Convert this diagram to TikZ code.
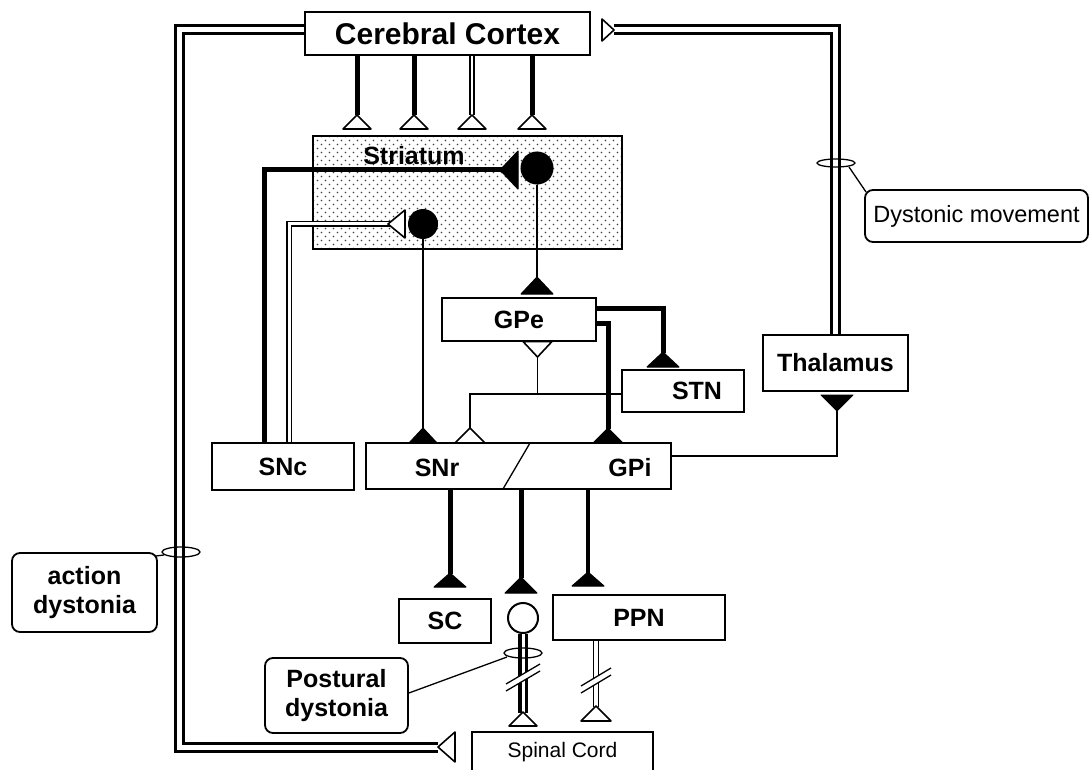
\documentclass[tikz,border=0pt]{standalone}
\usepackage{fontspec}
\setmainfont{Liberation Sans}
\usetikzlibrary{patterns,calc}
\pgfdeclarepatternformonly{sparsedots}{\pgfqpoint{-1pt}{-1pt}}{\pgfqpoint{9pt}{9pt}}{\pgfqpoint{8pt}{8pt}}{%
  \pgfpathcircle{\pgfqpoint{1.5pt}{1.5pt}}{0.85pt}%
  \pgfpathcircle{\pgfqpoint{5.5pt}{5.5pt}}{0.85pt}%
  \pgfusepath{fill}}
\newcommand\ctxfont{\fontsize{30}{32}\selectfont\bfseries}
\newcommand\lblfont{\fontsize{25}{29}\selectfont\bfseries}
\newcommand\smfont{\fontsize{21}{24}\selectfont}
\newcommand\dysfont{\fontsize{23.5}{26}\selectfont}
% vertical synapse: x, apex y, base y, half width, style
\newcommand\synv[5]{\path[#5] (#1,#2) -- (#1+#4,#3) -- (#1-#4,#3) -- cycle;}
% horizontal synapse: y, apex x, base x, half height, style
\newcommand\synh[5]{\path[#5] (#2,#1) -- (#3,#1+#4) -- (#3,#1-#4) -- cycle;}
\tikzset{
  box/.style={draw, line width=1.8pt, fill=white, inner sep=0pt, font=\lblfont},
  callout/.style={draw, line width=1.8pt, rounded corners=8pt, fill=white, inner sep=0pt, align=center},
  thickax/.style={line width=5pt},
  medax/.style={line width=3.5pt},
  thinax/.style={line width=1.3pt},
  dblax/.style={draw=black, line width=1.3pt, double=white, double distance=3pt},
  loopax/.style={draw=black, line width=3pt, double=white, double distance=5pt},
  opensyn/.style={draw, fill=white, line width=1.6pt, line join=round},
  fullsyn/.style={draw, fill=black, line width=1pt, line join=round},
  ring/.style={draw, line width=1.3pt},
}
\begin{document}
\begin{tikzpicture}[x=1pt,y=-1pt]
\useasboundingbox (0,0) rectangle (1092,770);
\fill[white] (0,0) rectangle (1092,770);

% ---------- boxes ----------
\node[box, font=\ctxfont, minimum width=285pt, minimum height=43pt] (ctx) at (447.5,33.5) {Cerebral Cortex};
\node[draw, line width=1.8pt, pattern=sparsedots, pattern color=black!75, minimum width=309pt, minimum height=113pt] (str) at (467.5,192.5) {};
\node[font=\lblfont, inner sep=0pt] (strlbl) at (414,156) {Striatum};
\node[box, minimum width=154pt, minimum height=43pt] (gpe) at (519,319.5) {GPe};
\node[box, minimum width=122pt, minimum height=42pt] (stn) at (683,391) {};
\node[font=\lblfont, inner sep=0pt] (stnlbl) at (697,391) {STN};
\node[box, minimum width=145pt, minimum height=56pt] (thal) at (835.5,363) {Thalamus};
\node[box, minimum width=142pt, minimum height=47pt] (snc) at (283,466.5) {SNc};
\node[box, minimum width=305pt, minimum height=46pt] (sg) at (518.5,466) {};
\node[font=\lblfont, inner sep=0pt] (snr) at (437,468) {SNr};
\node[font=\lblfont, inner sep=0pt] (gpi) at (630,468) {GPi};
\draw[thinax] (530,443) -- (503,489);
\node[box, minimum width=92pt, minimum height=44pt] (sc) at (445,621) {SC};
\node[box, minimum width=172pt, minimum height=45pt] (ppn) at (639,617.5) {PPN};
\node[draw, line width=1.8pt, fill=white, minimum width=181pt, minimum height=80pt] (sp) at (562.5,772) {};
\node[font=\smfont, inner sep=0pt] (splbl) at (562.5,752) {Spinal Cord};

% ---------- callouts ----------
\node[callout, font=\lblfont, minimum width=145pt, minimum height=79pt] (act) at (84.5,592.5) {action\\dystonia};
\node[callout, font=\dysfont, minimum width=223pt, minimum height=52pt] (dys) at (976.5,216) {Dystonic movement};
\node[callout, font=\lblfont, minimum width=143pt, minimum height=75pt] (pos) at (336.5,695.5) {Postural\\dystonia};

% ---------- cortex to striatum ----------
\coordinate (c1) at (357,115);
\coordinate (c2) at (414,115);
\coordinate (c3) at (472,115);
\coordinate (c4) at (532,115);
\draw[thickax] (ctx.south -| c1) -- (c1);
\draw[thickax] (ctx.south -| c2) -- (c2);
\draw[draw=black, line width=1.5pt, double=white, double distance=2.5pt] (ctx.south -| c3) -- (c3);
\draw[thickax] (ctx.south -| c4) -- (c4);
\synv{357}{115}{129}{14}{opensyn}
\synv{414}{115}{129}{14}{opensyn}
\synv{472}{115}{129}{14}{opensyn}
\synv{532}{115}{129}{14}{opensyn}

% ---------- striatal neurons ----------
\node[circle, fill=black, minimum size=33pt, inner sep=0pt] (n1) at (537,168) {};
\node[circle, fill=black, minimum size=30pt, inner sep=0pt] (n2) at (423,224) {};
\coordinate (a1) at (264,170);
\draw[thickax] (snc.north -| a1) -- (a1) -- (503,170);
\synh{170}{500}{518}{19}{fullsyn}
\coordinate (a2) at (289,224);
\draw[dblax] (snc.north -| a2) -- (a2) -- (390,224);
\synh{224}{388}{405}{14}{opensyn}

% striatum -> GPe, SNr
\coordinate (g1) at (537,277);
\draw[thinax] (n1.south) -- (g1);
\synv{537}{277}{294}{16}{fullsyn}
\coordinate (g2) at (423,428);
\draw[thinax] (n2.south) -- (g2);
\synv{423}{428}{443}{14}{fullsyn}

% GPe -> STN and GPe -> GPi
\coordinate (s1) at (663,353);
\draw[thickax] (gpe.east |- 0,308) -| (s1);
\synv{663}{352}{367}{16}{fullsyn}
\coordinate (s2) at (608,429);
\draw[thickax] (gpe.east |- 0,323) -| (s2);
\synv{608}{428}{443}{15}{fullsyn}

% STN -> GPe / SNr
\path[opensyn] (523,341.5) -- (552,341.5) -- (537.5,357) -- cycle;
\coordinate (j1) at (537.5,394);
\draw[thinax] (537.5,357) -- (j1);
\coordinate (j2) at (470,428);
\draw[thinax] (stn.west |- j1) -- (j1 -| j2) -- (j2);
\synv{470}{428}{443}{15}{opensyn}

% GPi -> Thalamus
\coordinate (t1) at (837,411);
\draw[thinax] (sg.east |- 0,456) -| (t1);
\path[fullsyn] (821,395) -- (853,395) -- (837,411) -- cycle;

% Thalamus -> Cortex
\coordinate (k1) at (614,30);
\draw[loopax] (thal.north -| 835,0) |- (k1);
\synh{30}{614}{602}{11}{opensyn}

% Cortex -> Spinal cord (left loop)
\coordinate (k2) at (438,747);
\draw[loopax] (ctx.west |- 0,30) -- (179.5,30) |- (k2);
\synh{747}{438}{455}{15}{opensyn}

% ---------- outputs of SNr/GPi ----------
\coordinate (o1) at (450,574);
\draw[thickax] (sg.south -| o1) -- (o1);
\synv{450}{573}{587}{16}{fullsyn}
\coordinate (o2) at (521,578);
\draw[thickax] (sg.south -| o2) -- (o2);
\synv{521}{577}{593}{16}{fullsyn}
\coordinate (o3) at (588,573);
\draw[medax] (sg.south -| o3) -- (o3);
\synv{588}{572}{586}{16}{fullsyn}

% brainstem neuron -> spinal cord
\node[circle, draw, line width=2pt, fill=white, minimum size=30pt, inner sep=0pt] (n3) at (523,618) {};
\coordinate (p1) at (523,713);
\draw[draw=black, line width=3.5pt, double=white, double distance=3pt] (n3.south) -- (p1);
\synv{523}{712}{726}{14}{opensyn}
\fill[white] (506,684) -- (540,664) -- (540,671) -- (506,691) -- cycle;
\draw[thinax] (506,684) -- (540,664);
\draw[thinax] (506,691) -- (540,671);

% PPN -> spinal cord
\coordinate (p2) at (596,707);
\draw[draw=black, line width=1.5pt, double=white, double distance=3.5pt] (ppn.south -| p2) -- (p2);
\synv{596}{706}{721}{15}{opensyn}
\fill[white] (581,686) -- (611,668) -- (611,675) -- (581,693) -- cycle;
\draw[thinax] (581,686) -- (611,668);
\draw[thinax] (581,693) -- (611,675);

% ---------- rings and callout leaders ----------
\draw[ring] (181,552) ellipse [x radius=19, y radius=5];
\draw[thinax] (act.north east) ++(-3,4) -- (164,555);
\draw[ring] (836,163) ellipse [x radius=19, y radius=4];
\draw[thinax] (dys.north west) ++(2,3) -- (849,167);
\draw[ring] (523,653) ellipse [x radius=19, y radius=5];
\draw[thinax] (pos.east |- 0,693) -- (507,657);
\end{tikzpicture}
\end{document}
